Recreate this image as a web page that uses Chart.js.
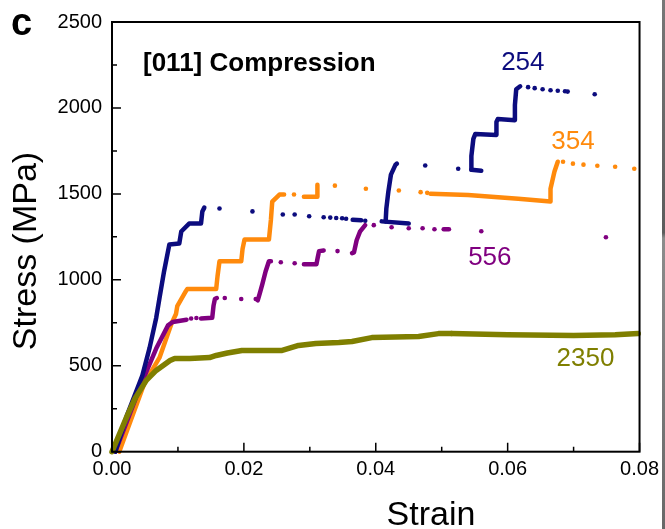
<!DOCTYPE html>
<html>
<head>
<meta charset="utf-8">
<script src="https://cdn.jsdelivr.net/npm/chart.js@4/dist/chart.umd.min.js"></script>
<style>
  html, body { margin: 0; padding: 0; background: #fff; }
  #wrap { position: relative; width: 665px; height: 529px; }
  #edge { position: absolute; left: 662px; top: 0; width: 3px; height: 529px;
          background: linear-gradient(#777 0%, #5c5c5c 44%, #8c8c8c 45%, #686868 100%); }
</style>
</head>
<body>
<div id="wrap"><canvas id="chart" width="665" height="529"></canvas><div id="edge"></div></div>
<script>
// [011] compression stress–strain curves for four pillar sizes.
// Every point is [strain, stress in MPa]. Continuous runs are polylines,
// isolated readings (strain bursts) are single dots.

// 254
const s254Lines = [
  [[0.0005,0],[0.0023,215],[0.0046,443],[0.0057,604],[0.0067,778],[0.0072,894],[0.0079,1050],
   [0.0087,1206],[0.0102,1211],[0.0105,1281],[0.0117,1327],[0.0135,1327],[0.0137,1397],[0.0140,1420]],
  [[0.0365,1349],[0.0378,1346]],
  [[0.0409,1340],[0.0450,1327]],
  [[0.0415,1340],[0.0416,1413],[0.0419,1511],[0.0423,1612],[0.0430,1670],[0.0432,1676]],
  [[0.0545,1641],[0.0560,1635]],
  [[0.0545,1641],[0.0545,1720],[0.0548,1820],[0.0551,1849],[0.0583,1843],[0.0583,1918],[0.0585,1935],
   [0.0611,1929],[0.0611,2016],[0.0613,2109],[0.0619,2126]]
];
const s254Dots = [
  [0.0163,1415],[0.0213,1398],[0.0259,1380],[0.0277,1380],[0.0299,1370],[0.0321,1364],[0.0331,1362],
  [0.0340,1360],[0.0349,1358],[0.0355,1355],[0.0384,1344],[0.0475,1665],[0.0525,1646],
  [0.0631,2121],[0.0641,2115],[0.0653,2109],[0.0665,2103],[0.0676,2100],[0.0687,2097],[0.0691,2095],[0.0732,2080]
];

// 354
const s354Lines = [
  [[0.0011,0],[0.0049,397],[0.0072,547],[0.0090,743],[0.0097,801],[0.0099,847],[0.0112,934],[0.0114,946],
   [0.0158,946],[0.0160,1020],[0.0163,1108],[0.0196,1108],[0.0198,1180],[0.0201,1235],[0.0238,1235],
   [0.0241,1350],[0.0243,1455],[0.0254,1496],[0.0261,1496]],
  [[0.0291,1484],[0.0311,1484],[0.0311,1520],[0.0312,1553]],
  [[0.0483,1501],[0.0540,1493],[0.0616,1472],[0.0665,1455],[0.0665,1530],[0.0671,1630],[0.0676,1687]]
];
const s354Dots = [
  [0.0276,1496],[0.0338,1548],[0.0385,1530],[0.0435,1520],[0.0468,1510],[0.0478,1506],
  [0.0684,1687],[0.0699,1676],[0.0715,1670],[0.0736,1664],[0.0763,1658],[0.0792,1646]
];

// 556
const s556Lines = [
  [[0.0005,0],[0.0045,400],[0.0067,600],[0.0085,735],[0.0092,755],[0.0113,768]],
  [[0.0135,775],[0.0152,780],[0.0154,850],[0.0156,888],[0.0159,894]],
  [[0.0221,880],[0.0224,920],[0.0228,975],[0.0233,1050],[0.0238,1108],[0.0241,1108]],
  [[0.0291,1090],[0.0310,1090],[0.0312,1130],[0.0314,1167],[0.0321,1171]],
  [[0.0364,1155],[0.0367,1160],[0.0371,1230],[0.0376,1280],[0.0384,1318]],
  [[0.0503,1294],[0.0511,1294]]
];
const s556Dots = [
  [0.0120,775],[0.0128,778],[0.0171,894],[0.0196,888],[0.0218,888],[0.0256,1102],[0.0277,1096],
  [0.0342,1167],[0.0397,1318],[0.0424,1306],[0.0450,1300],[0.0471,1300],[0.0489,1294],
  [0.0560,1283],[0.0749,1248]
];

// 2350
const s2350Lines = [
  [[0,0],[0.0022,200],[0.0035,310],[0.0052,415],[0.0067,473],[0.0077,500],[0.0088,530],[0.0095,542],
   [0.0118,542],[0.0148,548],[0.0158,560],[0.0175,574],[0.0197,589],[0.0258,589],[0.0283,618],
   [0.0309,630],[0.0344,635],[0.0364,641],[0.0394,664],[0.0465,670],[0.0495,687],[0.0515,687]],
  [[0.0515,687],[0.0600,681],[0.0700,676],[0.0763,681],[0.0798,687]]
];

const COLORS = { s254: '#0c0c7e', s354: '#ff8a0c', s556: '#800080', s2350: '#7f7f00' };
const FONT = '"Liberation Sans", Arial, sans-serif';

// Curve labels, anchored in data coordinates
const curveLabels = [
  { text: '254',  strain: 0.0623, stress: 2261, color: COLORS.s254 },
  { text: '354',  strain: 0.0699, stress: 1803, color: COLORS.s354 },
  { text: '556',  strain: 0.0573, stress: 1128, color: COLORS.s556 },
  { text: '2350', strain: 0.0718, stress: 542,  color: COLORS.s2350 }
];

const toXY = pts => pts.map(p => ({ x: p[0], y: p[1] }));

function lineSets(segments, color, width) {
  return segments.map(seg => ({
    type: 'line', data: toXY(seg), borderColor: color, borderWidth: width,
    borderCapStyle: 'round', borderJoinStyle: 'round',
    pointRadius: 0, tension: 0, fill: false, clip: 4
  }));
}
function dotSet(points, color, r) {
  return {
    type: 'scatter', data: toXY(points), backgroundColor: color, borderWidth: 0,
    pointRadius: r, showLine: false, clip: 4
  };
}

// first datasets are drawn on top
const datasets = [
  ...lineSets(s2350Lines, COLORS.s2350, 5.5),
  ...lineSets(s254Lines, COLORS.s254, 4.5), dotSet(s254Dots, COLORS.s254, 2.3),
  ...lineSets(s556Lines, COLORS.s556, 4.5), dotSet(s556Dots, COLORS.s556, 2.3),
  ...lineSets(s354Lines, COLORS.s354, 4.5), dotSet(s354Dots, COLORS.s354, 2.3)
];

const decorations = {
  id: 'decorations',
  afterDatasetsDraw(chart) {
    const { ctx, chartArea: a, scales: { x, y } } = chart;
    ctx.save();
    // inward tick marks, majors and minors
    ctx.strokeStyle = '#000';
    ctx.lineWidth = 1.5;
    ctx.beginPath();
    x.ticks.forEach((t, i) => {
      const px = x.getPixelForValue(t.value);
      ctx.moveTo(px, a.bottom); ctx.lineTo(px, a.bottom - 9);
      if (i < x.ticks.length - 1) {
        const mx = x.getPixelForValue(t.value + 0.01);
        ctx.moveTo(mx, a.bottom); ctx.lineTo(mx, a.bottom - 5);
      }
    });
    y.ticks.forEach((t, i) => {
      const py = y.getPixelForValue(t.value);
      ctx.moveTo(a.left, py); ctx.lineTo(a.left + 9, py);
      if (i < y.ticks.length - 1) {
        const my = y.getPixelForValue(t.value + 250);
        ctx.moveTo(a.left, my); ctx.lineTo(a.left + 5, my);
      }
    });
    ctx.stroke();
    // plot frame
    ctx.lineWidth = 2;
    ctx.strokeRect(a.left, a.top, a.right - a.left, a.bottom - a.top);

    // curve labels
    ctx.textAlign = 'center';
    ctx.textBaseline = 'middle';
    ctx.font = '26px ' + FONT;
    curveLabels.forEach(l => {
      ctx.fillStyle = l.color;
      ctx.fillText(l.text, x.getPixelForValue(l.strain), y.getPixelForValue(l.stress));
    });
    // inset heading
    ctx.fillStyle = '#000';
    ctx.textAlign = 'left';
    ctx.font = 'bold 26px ' + FONT;
    ctx.fillText('[011] Compression', x.getPixelForValue(0.0047), y.getPixelForValue(2255));

    // axis titles
    ctx.font = '34px ' + FONT;
    ctx.textAlign = 'center';
    ctx.textBaseline = 'alphabetic';
    ctx.fillText('Strain', 431, 525);
    ctx.save();
    ctx.translate(36, 251);
    ctx.rotate(-Math.PI / 2);
    ctx.fillText('Stress (MPa)', 0, 0);
    ctx.restore();

    // panel letter
    ctx.textAlign = 'left';
    ctx.font = 'bold 38px ' + FONT;
    ctx.fillText('c', 11, 35);
    ctx.restore();
  }
};

new Chart(document.getElementById('chart'), {
  data: { datasets },
  options: {
    responsive: false,
    animation: false,
    devicePixelRatio: 1,
    layout: { padding: { top: 19.6, right: 23, left: 0, bottom: 0 } },
    plugins: { legend: { display: false }, tooltip: { enabled: false } },
    scales: {
      x: {
        type: 'linear', min: 0, max: 0.08,
        afterFit(s) { s.height = 77.3; },
        grid: { display: false, drawTicks: false },
        border: { display: false },
        ticks: { stepSize: 0.02, autoSkip: false, maxRotation: 0, padding: 6, color: '#000',
                 font: { family: FONT, size: 20 }, callback: v => v.toFixed(2) }
      },
      y: {
        type: 'linear', min: 0, max: 2500,
        afterFit(s) { s.width = 112; },
        grid: { display: false, drawTicks: false },
        border: { display: false },
        ticks: { stepSize: 500, padding: 10, color: '#000', font: { family: FONT, size: 20 },
                 callback: v => String(v) }
      }
    }
  },
  plugins: [decorations]
});
</script>
</body>
</html>
